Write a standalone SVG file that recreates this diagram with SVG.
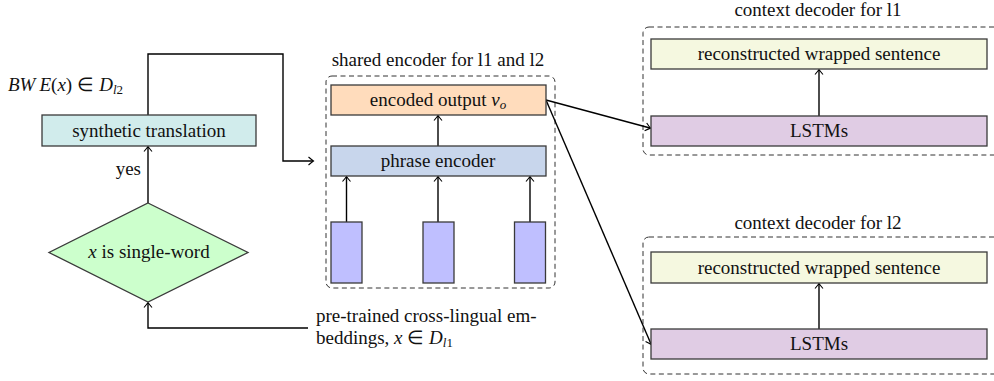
<svg xmlns="http://www.w3.org/2000/svg" width="994" height="381" viewBox="0 0 994 381" font-family="Liberation Serif" style="font-family:Liberation Serif">
<defs>
<marker id="arr" viewBox="-6 -5 8 10" refX="0" refY="0" markerWidth="8" markerHeight="10" markerUnits="userSpaceOnUse" orient="auto">
<path d="M -4.5 -4 Q -1 -1 0.5 0 Q -1 1 -4.5 4" fill="none" stroke="#000" stroke-width="1.1"/>
</marker>
<style>
text{font-size:19px;fill:#111}
.c{text-anchor:middle}
.i{font-style:italic}
.s{font-size:13px}
.box{stroke:#3a3a3a;stroke-width:1.3}
.grp{fill:none;stroke:#333;stroke-width:1;stroke-dasharray:5 3.5}
.ar{fill:none;stroke:#000;stroke-width:1.4;marker-end:url(#arr)}
</style>
</defs>
<g font-family="Liberation Serif">
<g id="groups">
<rect class="grp" x="326" y="76" width="229" height="212" rx="6"/>
<rect class="grp" x="643" y="27" width="360" height="128" rx="6"/>
<rect class="grp" x="643" y="237" width="360" height="137" rx="6"/>
<text class="c" x="438" y="66">shared encoder for l1 and l2</text>
<text class="c" x="818" y="16">context decoder for l1</text>
<text class="c" x="818" y="229">context decoder for l2</text>
</g>

<g id="connectors">
<polyline class="ar" points="148,115 148,54 283,54 283,161 313,161"/>
<line class="ar" x1="148" y1="203" x2="148" y2="147"/>
<polyline class="ar" points="308,328 148,328 148,303"/>
<line class="ar" x1="346.5" y1="222" x2="346.5" y2="177"/>
<line class="ar" x1="438" y1="222" x2="438" y2="177"/>
<line class="ar" x1="530" y1="222" x2="530" y2="177"/>
<line class="ar" x1="438" y1="146" x2="438" y2="116"/>
<line class="ar" x1="546" y1="100" x2="650" y2="128"/>
<line class="ar" x1="546" y1="100" x2="651" y2="344"/>
<line class="ar" x1="819" y1="116" x2="819" y2="70"/>
<line class="ar" x1="819" y1="329" x2="819" y2="284"/>
</g>

<g id="bwe-label">
<text x="8" y="91"><tspan class="i">BW</tspan><tspan class="i" dx="4">E</tspan>(<tspan class="i">x</tspan>)<tspan dx="5">∈</tspan><tspan class="i" dx="5">D</tspan><tspan class="i s" dy="3">l</tspan><tspan class="s">2</tspan></text>
</g>
<g id="yes-label"><text x="141" y="175" text-anchor="end">yes</text></g>

<g id="synthetic-translation">
<rect class="box" x="42" y="115" width="214" height="31" fill="#d1ecec"/>
<text class="c" x="149" y="136.5">synthetic translation</text>
</g>

<g id="single-word">
<polygon class="box" points="148,203 248,252.5 148,302 49,252.5" fill="#ccffcc"/>
<text class="c" x="149" y="258"><tspan class="i">x</tspan> is single-word</text>
</g>

<g id="pretrained">
<text x="316" y="322">pre-trained cross-lingual em-</text>
<text x="316" y="344">beddings, <tspan class="i">x</tspan> ∈ <tspan class="i">D</tspan><tspan class="i s" dy="3">l</tspan><tspan class="s">1</tspan></text>
</g>

<g id="encoded-output">
<rect class="box" x="331" y="85" width="215" height="30" fill="#ffdcbc"/>
<text class="c" x="438" y="106">encoded output <tspan class="i">v</tspan><tspan class="i s" dy="3">o</tspan></text>
</g>

<g id="phrase-encoder">
<rect class="box" x="331" y="146" width="215" height="30" fill="#c8d6ec"/>
<text class="c" x="438" y="167">phrase encoder</text>
</g>

<g id="emb1"><rect class="box" x="331" y="222" width="31" height="61" fill="#bfbfff"/></g>
<g id="emb2"><rect class="box" x="423" y="222" width="31" height="61" fill="#bfbfff"/></g>
<g id="emb3"><rect class="box" x="514.5" y="222" width="31" height="61" fill="#bfbfff"/></g>

<g id="recon1">
<rect class="box" x="651" y="39" width="336" height="30" fill="#f5f8e0"/>
<text class="c" x="819" y="60">reconstructed wrapped sentence</text>
</g>
<g id="lstm1">
<rect class="box" x="651" y="116" width="336" height="30" fill="#e0cce4"/>
<text class="c" x="819" y="137">LSTMs</text>
</g>
<g id="recon2">
<rect class="box" x="651" y="252" width="336" height="31" fill="#f5f8e0"/>
<text class="c" x="819" y="274">reconstructed wrapped sentence</text>
</g>
<g id="lstm2">
<rect class="box" x="651" y="329" width="336" height="30" fill="#e0cce4"/>
<text class="c" x="819" y="350">LSTMs</text>
</g>
</g>
</svg>
